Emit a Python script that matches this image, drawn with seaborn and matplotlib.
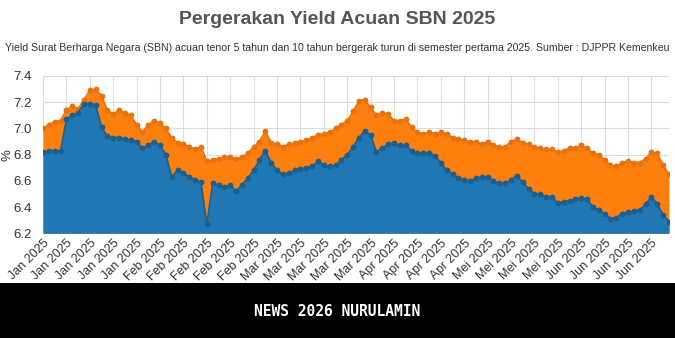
import numpy as np
import pandas as pd
import matplotlib
matplotlib.use("Agg")
import matplotlib.pyplot as plt
from matplotlib.patches import Rectangle
import seaborn as sns

# ---- data ----
tenor_10y = [7.00, 7.03, 7.05, 7.06, 7.14, 7.17, 7.15, 7.22, 7.29, 7.30,
             7.25, 7.14, 7.11, 7.14, 7.12, 7.10, 7.03, 6.97, 7.03, 7.06,
             7.04, 7.00, 6.93, 6.89, 6.88, 6.86, 6.84, 6.86, 6.75, 6.76,
             6.77, 6.78, 6.78, 6.77, 6.78, 6.81, 6.86, 6.90, 6.98, 6.89,
             6.88, 6.86, 6.88, 6.89, 6.90, 6.91, 6.93, 6.95, 6.96, 6.97,
             7.00, 7.03, 7.06, 7.13, 7.21, 7.22, 7.16, 7.10, 7.12, 7.11,
             7.06, 7.06, 7.07, 7.01, 6.97, 6.96, 6.97, 6.96, 6.97, 6.96,
             6.93, 6.92, 6.91, 6.90, 6.90, 6.88, 6.90, 6.87, 6.86, 6.86,
             6.90, 6.92, 6.89, 6.88, 6.86, 6.85, 6.84, 6.84, 6.82, 6.83,
             6.85, 6.85, 6.87, 6.85, 6.81, 6.80, 6.76, 6.72, 6.71, 6.74,
             6.75, 6.74, 6.74, 6.77, 6.82, 6.81, 6.72, 6.65]
tenor_5y = [6.82, 6.83, 6.83, 6.83, 7.07, 7.10, 7.12, 7.19, 7.19, 7.18,
            7.01, 6.94, 6.93, 6.93, 6.92, 6.91, 6.90, 6.85, 6.87, 6.90,
            6.87, 6.80, 6.63, 6.68, 6.66, 6.63, 6.61, 6.59, 6.27, 6.58,
            6.57, 6.55, 6.57, 6.52, 6.57, 6.62, 6.68, 6.76, 6.83, 6.74,
            6.68, 6.65, 6.66, 6.68, 6.69, 6.70, 6.71, 6.75, 6.72, 6.71,
            6.72, 6.76, 6.80, 6.86, 6.93, 6.98, 6.95, 6.82, 6.85, 6.88,
            6.89, 6.87, 6.87, 6.83, 6.81, 6.81, 6.81, 6.79, 6.74, 6.68,
            6.65, 6.62, 6.61, 6.60, 6.62, 6.63, 6.63, 6.60, 6.58, 6.58,
            6.61, 6.64, 6.59, 6.54, 6.50, 6.50, 6.48, 6.48, 6.43, 6.44,
            6.45, 6.46, 6.47, 6.46, 6.40, 6.38, 6.35, 6.31, 6.32, 6.35,
            6.36, 6.37, 6.38, 6.42, 6.48, 6.42, 6.34, 6.29]
tick_labels = (["Jan 2025"] * 5 + ["Feb 2025"] * 5 + ["Mar 2025"] * 5 +
               ["Apr 2025"] * 4 + ["Mei 2025"] * 4 + ["Jun 2025"] * 4)
series_names = ["10 tahun", "5 tahun"]
y_ticks = [6.2, 6.4, 6.6, 6.8, 7.0, 7.2, 7.4]

title = "Pergerakan Yield Acuan SBN 2025"
subtitle = ("Yield Surat Berharga Negara (SBN) acuan tenor 5 tahun dan 10 tahun "
            "bergerak turun di semester pertama 2025. Sumber : DJPPR Kemenkeu")
footer = "NEWS 2026 NURULAMIN"

idx = list(range(len(tenor_10y)))
df = pd.DataFrame({
    "idx": idx * 2,
    "yield": tenor_10y + tenor_5y,
    "series": [series_names[0]] * len(tenor_10y) + [series_names[1]] * len(tenor_5y),
})

sns.set_theme(style="whitegrid")
plt.rcParams["font.family"] = ["Liberation Sans", "DejaVu Sans"]

fig = plt.figure(figsize=(6.75, 3.38), dpi=100)
ax = fig.add_axes([43 / 675, 1 - 233.3 / 338, (669 - 43) / 675, (233.3 - 76) / 338])

colors = {series_names[0]: "#ff7f0e", series_names[1]: "#1f77b4"}
edges = {series_names[0]: "#e8730c", series_names[1]: "#1b5f8e"}
base = y_ticks[0]
for name, vals in [(series_names[0], tenor_10y), (series_names[1], tenor_5y)]:
    ax.fill_between(idx, base, vals, color=colors[name], linewidth=0, zorder=2)
    sub = df[df["series"] == name]
    sns.lineplot(data=sub, x="idx", y="yield", ax=ax, color=edges[name],
                 marker="o", markersize=4.2, markeredgewidth=0,
                 linewidth=1.2, legend=False, zorder=3)

ax.set_xlim(0, len(idx) - 1)
ax.set_ylim(y_ticks[0], y_ticks[-1])
tick_pos = list(range(0, 4 * len(tick_labels), 4))
ax.set_xticks(tick_pos)
ax.set_xticklabels(tick_labels, rotation=45, ha="right", rotation_mode="anchor",
                   fontsize=9, color="#333333")
ax.set_yticks(y_ticks)
ax.set_yticklabels([f"{v:.1f}" for v in y_ticks], fontsize=9.5, color="#333333")
ax.tick_params(axis="x", pad=3, length=0)
ax.tick_params(axis="y", pad=8, length=0)
ax.set_xlabel("")
ax.set_ylabel("%", fontsize=9.5, color="#333333")
ax.yaxis.set_label_coords(-0.047, 0.5)
ax.grid(True, color="#dddddd", linewidth=0.8)
for s in ax.spines.values():
    s.set_visible(False)
ax.set_axisbelow(True)

fig.text(0.5, 1 - 20 / 338, title, ha="center", va="center", fontsize=14,
         fontweight="bold", color="#555555")
fig.text(0.5, 1 - 48 / 338, subtitle, ha="center", va="center", fontsize=7.6,
         color="#333333")

fig.add_artist(Rectangle((0, 0), 1, 55 / 338, transform=fig.transFigure,
                         facecolor="black", edgecolor="none", zorder=10))
fig.text(0.5, 1 - 311 / 338, footer, ha="center", va="center", fontsize=10.5,
         fontweight="bold", color="white", family="DejaVu Sans Mono", zorder=11)

fig.savefig("out.png", dpi=100, facecolor="white")
